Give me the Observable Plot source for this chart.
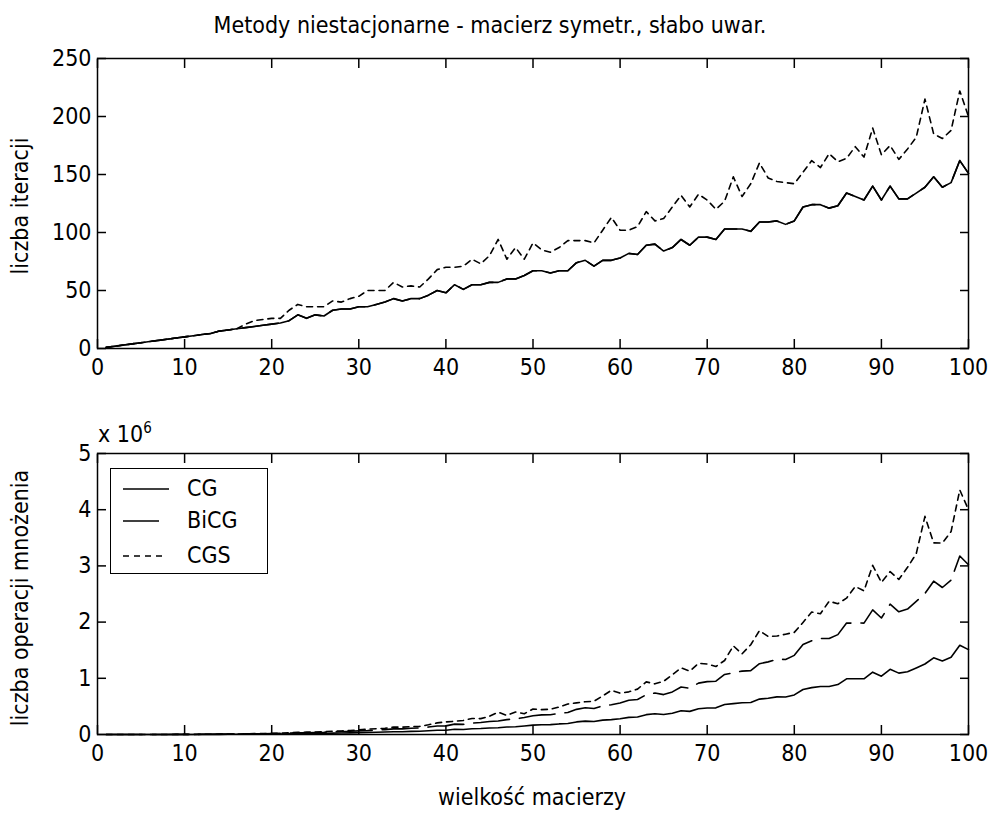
<!DOCTYPE html>
<html><head><meta charset="utf-8">
<script src="https://cdn.jsdelivr.net/npm/d3@7"></script>
<script src="https://cdn.jsdelivr.net/npm/@observablehq/plot@0.6"></script>
<style>
body{margin:0;background:#fff;}
#root{position:relative;width:989px;height:813px;overflow:hidden;background:#fff;
  font-family:"Liberation Sans Narrow","Arial Narrow","DejaVu Sans Condensed","Liberation Sans",sans-serif;color:#000;}
.abs{position:absolute;white-space:nowrap;}
</style></head><body><div id="root"></div>
<script>
// ---------- data ----------
const sizes = [1,2,3,4,5,6,7,8,9,10,11,12,13,14,15,16,17,18,19,20,21,22,23,24,25,26,27,28,29,30,31,32,33,34,35,36,37,38,39,40,41,42,43,44,45,46,47,48,49,50,51,52,53,54,55,56,57,58,59,60,61,62,63,64,65,66,67,68,69,70,71,72,73,74,75,76,77,78,79,80,81,82,83,84,85,86,87,88,89,90,91,92,93,94,95,96,97,98,99,100];

const iterCG = [1,2,3,4,5,6,7,8,9,10, 11,12,13,15,16,17,18,19,20,21, 22,24,29,26,29,28,33,34,34,36, 36,38,40,43,41,43,43,46,50,48, 55,51,55,55,57,57,60,60,63,67, 67,65,67,67,74,76,71,76,76,78, 82,81,89,90,84,87,94,89,96,96, 94,103,103,103,101,109,109,110,107,110, 122,124,124,121,123,134,131,128,140,128, 140,129,129,134,139,148,139,143,162,151];
const iterBiCG = [1,2,3,4,5,6,7,8,9,10, 11,12,13,15,16,17,18,19,20,21, 22,24,29,26,29,28,33,34,34,36, 36,38,40,43,41,43,43,46,50,48, 55,51,55,55,57,57,60,60,63,67, 67,65,67,67,74,76,71,76,76,78, 82,81,89,90,84,87,94,89,96,96, 94,103,103,103,101,109,109,110,107,110, 122,124,124,121,123,134,131,128,140,128, 140,129,129,134,139,148,139,143,162,151];
const iterCGS = [1,2,3,4,5,6,7,8,9,10, 11,12,13,15,16,17,21,24,25,26, 26,33,38,36,36,36,41,40,43,45, 50,50,50,57,53,54,53,60,68,70, 70,71,77,73,80,94,77,87,77,91, 85,83,87,93,93,93,91,102,113,102, 102,105,118,110,112,122,132,122,133,128, 120,127,148,131,142,160,147,144,143,142, 152,162,156,168,161,164,174,165,190,167, 175,163,172,182,215,185,181,188,222,200];

const opsCG = [1,8,27,64,125,216,343,512,729,1000, 1331,1728,2197,2940,3600,4352,5202,6156,7220,8400, 9702,11616,15341,14976,18125,18928,24057,26656,28594,32400, 34596,38912,43560,49708,50225,55728,58867,66424,76050,76800, 92455,89964,101695,106480,115425,120612,132540,138240,151263,167500, 174267,175760,188203,195372,223850,238336,230679,255664,264556,280800, 305122,311364,353241,368640,354900,378972,421966,411536,457056,470400, 473854,533952,548887,564028,568125,629584,646261,669240,667787,704000, 800442,833776,854236,853776,888675,991064,991539,991232,1108940,1036800, 1159340,1091856,1115721,1184024,1254475,1363968,1307851,1373372,1587762,1510000];
const opsBiCG = [2,16,54,128,250,432,686,1024,1458,2000, 2662,3456,4394,5880,7200,8704,10404,12312,14440,16800, 19404,23232,30682,29952,36250,37856,48114,53312,57188,64800, 69192,77824,87120,99416,100450,111456,117734,132848,152100,153600, 184910,179928,203390,212960,230850,241224,265080,276480,302526,335000, 348534,351520,376406,390744,447700,476672,461358,511328,529112,561600, 610244,622728,706482,737280,709800,757944,843932,823072,914112,940800, 947708,1067904,1097774,1128056,1136250,1259168,1292522,1338480,1335574,1408000, 1600884,1667552,1708472,1707552,1777350,1982128,1983078,1982464,2217880,2073600, 2318680,2183712,2231442,2368048,2508950,2727936,2615702,2746744,3175524,3020000];
const opsCGS = [2,16,54,128,250,432,686,1024,1458,2000, 2662,3456,4394,5880,7200,8704,12138,15552,18050,20800, 22932,31944,40204,41472,45000,48672,59778,62720,72326,81000, 96100,102400,108900,131784,129850,139968,145114,173280,206856,224000, 235340,250488,284746,282656,324000,397808,340186,400896,369754,455000, 442170,448864,488766,542376,562650,583296,591318,686256,786706,734400, 759084,807240,936684,901120,946400,1062864,1185096,1128256,1266426,1254400, 1209840,1316736,1577384,1434712,1597500,1848320,1743126,1752192,1784926,1817600, 1994544,2178576,2149368,2370816,2326450,2425888,2634012,2555520,3009980,2705400, 2898350,2759264,2975256,3216304,3880750,3409920,3406058,3611104,4351644,4000000];

const methods = ["CG", "BiCG", "CGS"];
const xTicks = [0,10,20,30,40,50,60,70,80,90,100];
const yTicksIter = [0,50,100,150,200,250];
const yTicksOps = [0,1,2,3,4,5];

const titleText = "Metody niestacjonarne - macierz symetr., słabo uwar.";
const yLabelTop = "liczba iteracji";
const yLabelBottom = "liczba operacji mnożenia";
const xLabelBottom = "wielkość macierzy";

// ---------- helpers ----------
const FONT = '"Liberation Sans Narrow","Arial Narrow","DejaVu Sans Condensed","Liberation Sans",sans-serif';
const FS = 23;
const dash = {CG: null, BiCG: "36,10", CGS: "6,5"};
const rows = (arr) => sizes.map((n, i) => ({n, v: arr[i]}));
const intFmt = d => String(d);

function frameAxes(ticksY) {
  return [
    Plot.frame({stroke: "black", strokeWidth: 1.5}),
    Plot.axisX({anchor: "bottom", ticks: xTicks, tickSize: -9, tickPadding: 19, strokeWidth: 1.5, tickFormat: intFmt, label: null, fontSize: FS}),
    Plot.axisX({anchor: "top", ticks: xTicks, tickSize: -9, strokeWidth: 1.5, tickFormat: () => "", label: null}),
    Plot.axisY({anchor: "left", ticks: ticksY, tickSize: -9, tickPadding: 15, strokeWidth: 1.5, tickFormat: intFmt, label: null, fontSize: FS}),
    Plot.axisY({anchor: "right", ticks: ticksY, tickSize: -9, strokeWidth: 1.5, tickFormat: () => "", label: null})
  ];
}

const root = document.getElementById("root");
function place(el, left, top) {
  el.style.position = "absolute"; el.style.left = left + "px"; el.style.top = top + "px";
  root.appendChild(el);
}
function text(str, css) {
  const d = document.createElement("div");
  d.className = "abs"; d.textContent = str;
  Object.assign(d.style, css);
  root.appendChild(d);
  return d;
}

// ---------- top plot ----------
const topPlot = Plot.plot({
  width: 989, height: 390,
  marginLeft: 97, marginRight: 21, marginTop: 58, marginBottom: 42,
  style: {fontFamily: FONT, fontSize: FS + "px", background: "transparent", color: "black", overflow: "visible"},
  x: {domain: [0, 100], label: null},
  y: {domain: [0, 250], label: null},
  marks: [
    Plot.line(rows(iterCGS), {x: "n", y: "v", stroke: "black", strokeWidth: 1.6, strokeDasharray: dash.CGS}),
    Plot.line(rows(iterBiCG), {x: "n", y: "v", stroke: "black", strokeWidth: 1.6, strokeDasharray: dash.BiCG}),
    Plot.line(rows(iterCG), {x: "n", y: "v", stroke: "black", strokeWidth: 1.6}),
    ...frameAxes(yTicksIter)
  ]
});
place(topPlot, 0, 0);

// ---------- bottom plot ----------
const bottomPlot = Plot.plot({
  width: 989, height: 423,
  marginLeft: 97, marginRight: 21, marginTop: 63, marginBottom: 79,
  style: {fontFamily: FONT, fontSize: FS + "px", background: "transparent", color: "black", overflow: "visible"},
  x: {domain: [0, 100], label: null},
  y: {domain: [0, 5], label: null},
  marks: [
    Plot.line(rows(opsCGS), {x: "n", y: d => d.v / 1e6, stroke: "black", strokeWidth: 1.6, strokeDasharray: dash.CGS}),
    Plot.line(rows(opsBiCG), {x: "n", y: d => d.v / 1e6, stroke: "black", strokeWidth: 1.6, strokeDasharray: dash.BiCG}),
    Plot.line(rows(opsCG), {x: "n", y: d => d.v / 1e6, stroke: "black", strokeWidth: 1.6}),
    ...frameAxes(yTicksOps)
  ]
});
place(bottomPlot, 0, 390);

// ---------- texts ----------
text(titleText, {left: "490px", top: "12px", fontSize: FS + "px", transform: "translateX(-50%)"});
text(yLabelTop, {left: "20px", top: "206px", fontSize: FS + "px", transform: "translate(-50%,-50%) rotate(-90deg)"});
text(yLabelBottom, {left: "20px", top: "598px", fontSize: FS + "px", transform: "translate(-50%,-50%) rotate(-90deg)"});
text(xLabelBottom, {left: "532px", top: "784px", fontSize: FS + "px", transform: "translateX(-50%)"});
const ex = text("x 10", {left: "98px", top: "421px", fontSize: FS + "px", lineHeight: "1"});
const sup = document.createElement("span");
sup.textContent = "6"; sup.style.fontSize = "15px"; sup.style.verticalAlign = "9px";
ex.appendChild(sup);

// ---------- legend ----------
const leg = document.createElement("div");
Object.assign(leg.style, {position: "absolute", left: "110px", top: "468px", width: "156px", height: "104px",
  border: "1.5px solid black", background: "white"});
root.appendChild(leg);
const legY = [20, 52, 87];
const legLen = {CG: 46, BiCG: 36, CGS: 43};
methods.forEach((m, i) => {
  const svg = d3.create("svg").attr("width", 50).attr("height", 6)
    .style("position", "absolute").style("left", "12px").style("top", (legY[i] - 3) + "px");
  svg.append("line").attr("x1", 0).attr("x2", legLen[m]).attr("y1", 3).attr("y2", 3)
    .attr("stroke", "black").attr("stroke-width", 1.6).attr("stroke-dasharray", dash[m]);
  leg.appendChild(svg.node());
  const t = document.createElement("div");
  t.textContent = m;
  Object.assign(t.style, {position: "absolute", left: "76px", top: (legY[i] - 14) + "px", fontSize: FS + "px", lineHeight: "26px"});
  leg.appendChild(t);
});
</script></body></html>
